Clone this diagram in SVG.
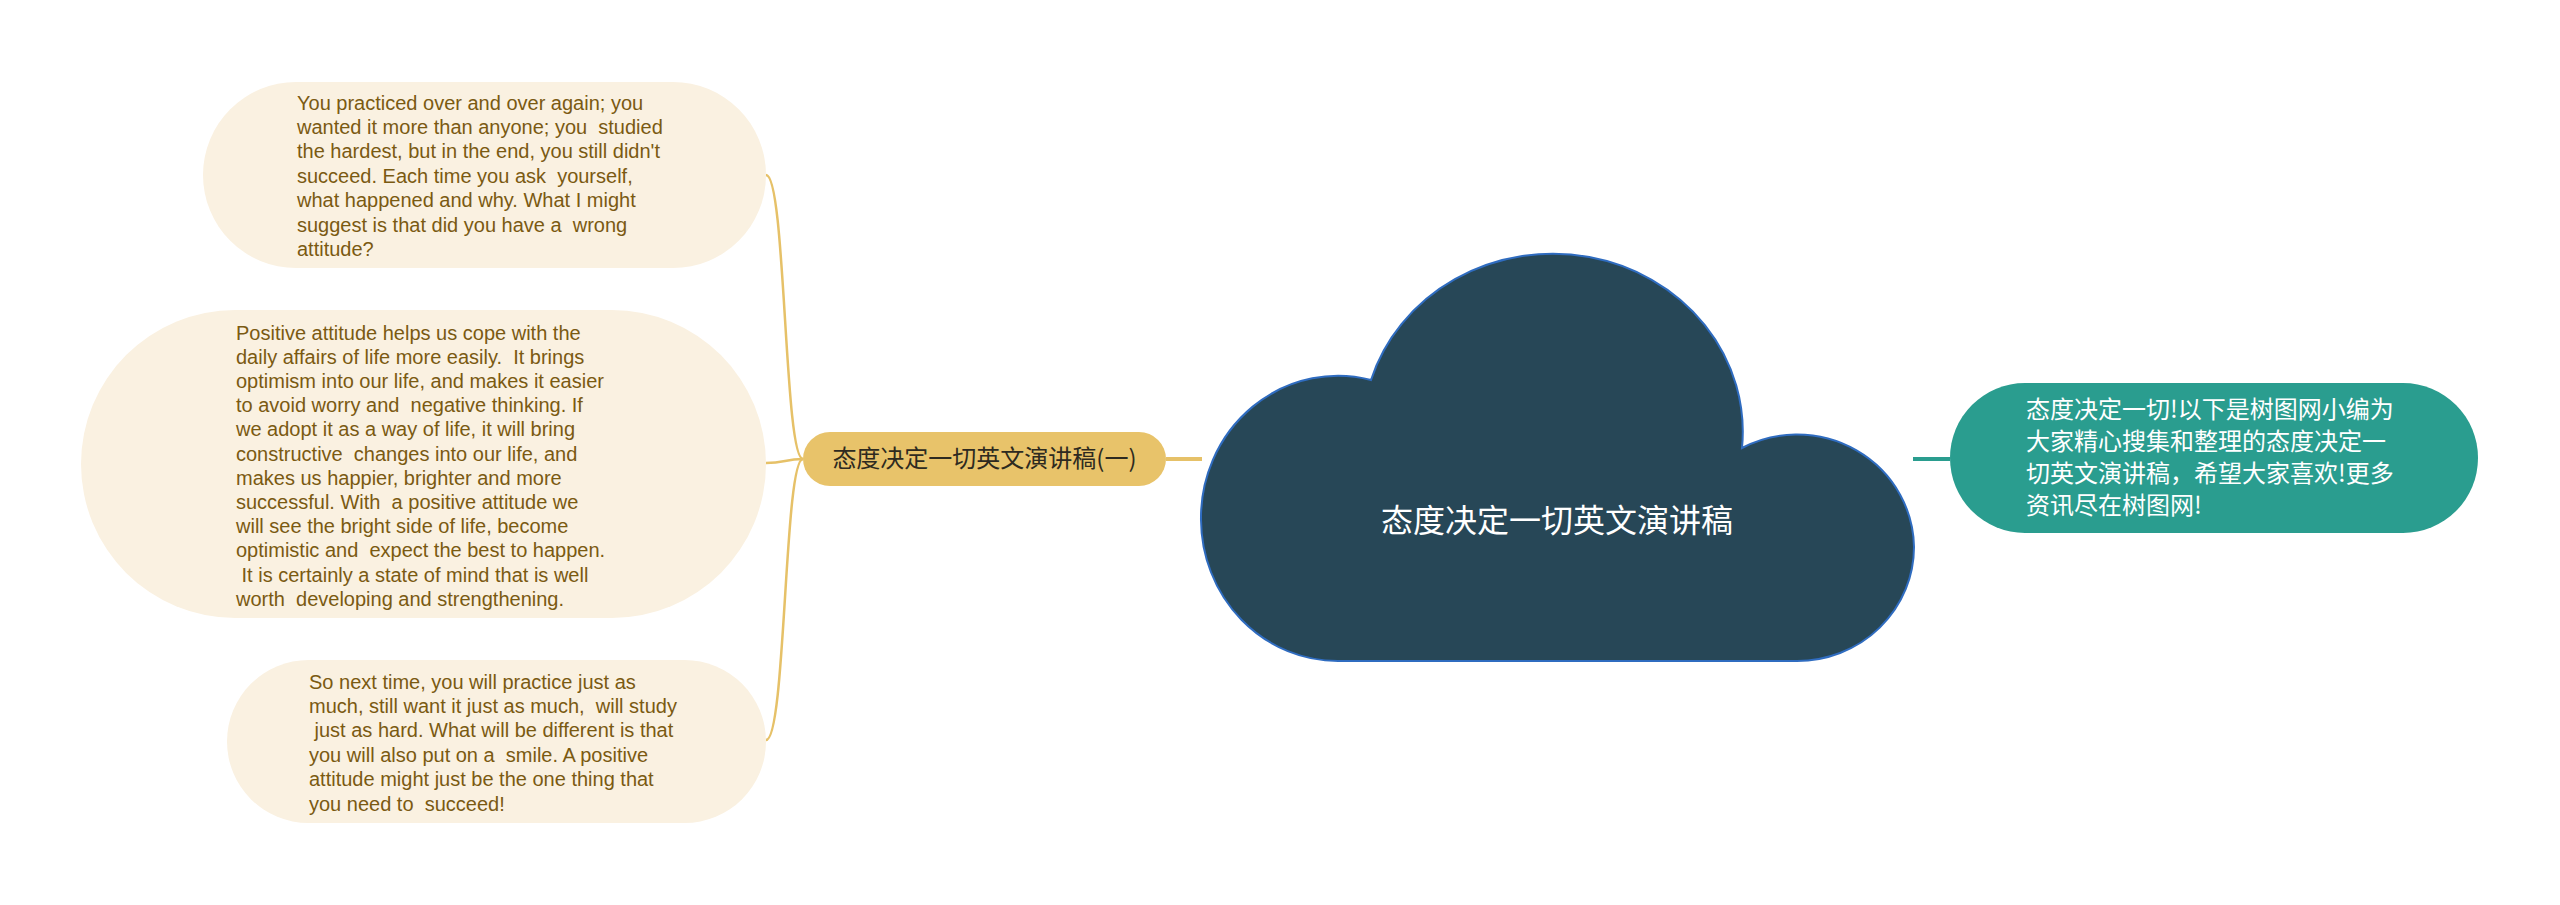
<svg xmlns="http://www.w3.org/2000/svg" width="2560" height="905" viewBox="0 0 2560 905">
<style>
.bub{fill:#faf1e1}
.bt{font-family:"Liberation Sans","Noto Sans CJK SC",sans-serif;font-size:20px;fill:#7a5a12}
.conn{fill:none;stroke:#e6c168;stroke-width:2.5}
.cjk{font-family:"Noto Sans CJK SC","Noto Sans",sans-serif}
</style>
<rect width="2560" height="905" fill="#ffffff"/>
<g id="connectors">
<path class="conn" d="M 803 459 C 784 459, 786 175, 766 175"/>
<path class="conn" d="M 803 459 C 785 459, 785 463, 766 463"/>
<path class="conn" d="M 803 459 C 784 459, 786 740, 766 740"/>
<line x1="1166" y1="459" x2="1202" y2="459" stroke="#e6c168" stroke-width="4"/>
<line x1="1913" y1="459" x2="1950" y2="459" stroke="#2a9d8f" stroke-width="4"/>
</g>
<g id="center">
<path d="M 1338 661 A 137 142 0 0 1 1201 520 A 137 142 0 0 1 1371 380 A 190 178 0 0 1 1742 448 A 117 114 0 0 1 1914 547 A 117 114 0 0 1 1797 661 Z" fill="#274757" stroke="#2f6cc0" stroke-width="2"/>
<text class="cjk" x="1557" y="532" font-size="32" fill="#ffffff" text-anchor="middle">态度决定一切英文演讲稿</text>
</g>
<g id="intro">
<rect x="1950" y="383" width="528" height="150" rx="75" fill="#2a9d8f"/>
<text class="cjk" font-size="24" fill="#ffffff">
<tspan x="2026" y="418">态度决定一切!以下是树图网小编为</tspan>
<tspan x="2026" y="450">大家精心搜集和整理的态度决定一</tspan>
<tspan x="2026" y="482">切英文演讲稿，希望大家喜欢!更多</tspan>
<tspan x="2026" y="514">资讯尽在树图网!</tspan>
</text>
</g>
<g id="sub">
<rect x="803" y="432" width="363" height="54" rx="27" fill="#e8c36a"/>
<text class="cjk" x="984.5" y="467" font-size="24" fill="#2e2a20" text-anchor="middle">态度决定一切英文演讲稿(一)</text>
</g>
<g id="node1">
<rect class="bub" x="203" y="82" width="563" height="186" rx="93"/>
<text class="bt" xml:space="preserve"><tspan x="297" y="109.5">You practiced over and over again; you</tspan><tspan x="297" y="133.9">wanted it more than anyone; you  studied</tspan><tspan x="297" y="158.3">the hardest, but in the end, you still didn't</tspan><tspan x="297" y="182.7">succeed. Each time you ask  yourself,</tspan><tspan x="297" y="207.1">what happened and why. What I might</tspan><tspan x="297" y="231.5">suggest is that did you have a  wrong</tspan><tspan x="297" y="255.9">attitude?</tspan></text>
</g>
<g id="node2">
<rect class="bub" x="81" y="310" width="685" height="308" rx="154"/>
<text class="bt" xml:space="preserve"><tspan x="236" y="339.5">Positive attitude helps us cope with the</tspan><tspan x="236" y="363.7">daily affairs of life more easily.  It brings</tspan><tspan x="236" y="387.9">optimism into our life, and makes it easier</tspan><tspan x="236" y="412.1">to avoid worry and  negative thinking. If</tspan><tspan x="236" y="436.3">we adopt it as a way of life, it will bring</tspan><tspan x="236" y="460.5">constructive  changes into our life, and</tspan><tspan x="236" y="484.7">makes us happier, brighter and more</tspan><tspan x="236" y="508.9">successful. With  a positive attitude we</tspan><tspan x="236" y="533.1">will see the bright side of life, become</tspan><tspan x="236" y="557.3">optimistic and  expect the best to happen.</tspan><tspan x="236" y="581.5"> It is certainly a state of mind that is well</tspan><tspan x="236" y="605.7">worth  developing and strengthening.</tspan></text>
</g>
<g id="node3">
<rect class="bub" x="227" y="660" width="539" height="163" rx="81.5"/>
<text class="bt" xml:space="preserve"><tspan x="309" y="688.5">So next time, you will practice just as</tspan><tspan x="309" y="712.9">much, still want it just as much,  will study</tspan><tspan x="309" y="737.3"> just as hard. What will be different is that</tspan><tspan x="309" y="761.7">you will also put on a  smile. A positive</tspan><tspan x="309" y="786.1">attitude might just be the one thing that</tspan><tspan x="309" y="810.5">you need to  succeed!</tspan></text>
</g>
</svg>
